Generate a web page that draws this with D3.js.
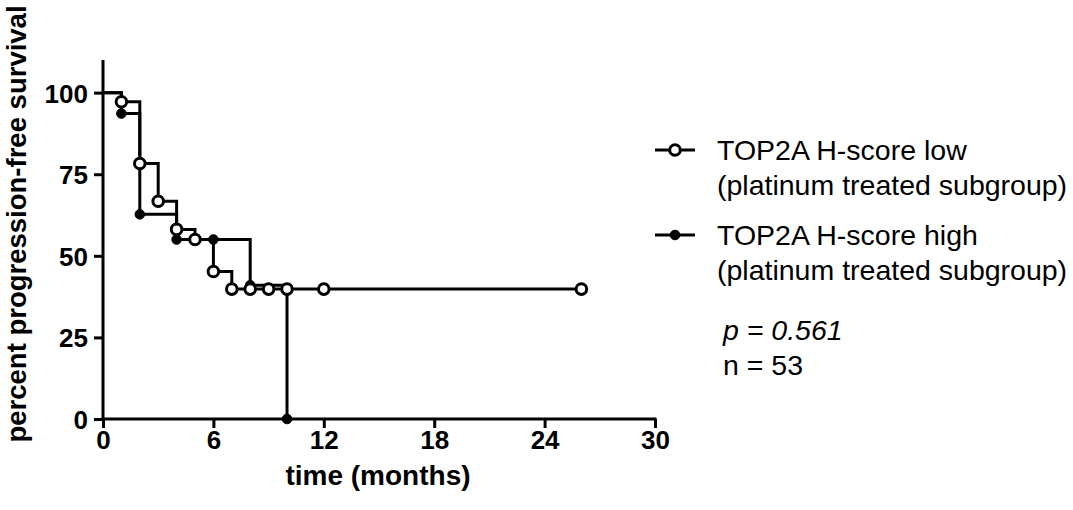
<!DOCTYPE html>
<html>
<head>
<meta charset="utf-8">
<script src="https://cdn.jsdelivr.net/npm/d3@7"></script>
<style>
  html, body { margin: 0; padding: 0; background: #fff; }
  svg text { font-family: "Liberation Sans", Arial, sans-serif; }
</style>
</head>
<body>
<svg id="chart" width="1073" height="510"></svg>
<script>
// ---- data ----
// Kaplan-Meier step points: [time in months, percent surviving]
const lowTimes   = [0, 1, 2, 3, 4, 5, 6, 7, 8, 9, 10, 12, 26];
const lowValues  = [100, 97.2, 78.3, 66.7, 58.1, 55.0, 45.2, 39.8, 39.8, 39.8, 39.8, 39.8, 39.8];
const highTimes  = [0, 1, 2, 4, 6, 8, 10];
const highValues = [100, 93.6, 62.7, 55.0, 55.0, 41.0, 0];
const xTicks = [0, 6, 12, 18, 24, 30];
const yTicks = [0, 25, 50, 75, 100];
const legendLabels = [
  ["TOP2A H-score low", "(platinum treated subgroup)"],
  ["TOP2A H-score high", "(platinum treated subgroup)"]
];
const pText = "p = 0.561";
const nText = "n = 53";
const xTitle = "time (months)";
const yTitle = "percent progression-free survival";

// ---- drawing ----
const svg = d3.select("#chart");
const x = d3.scaleLinear().domain([0, 30]).range([103, 655]);
const y = d3.scaleLinear().domain([0, 110]).range([419, 60]);
const SW = 3;

// axes
const xAxis = d3.axisBottom(x).tickValues(xTicks).tickSize(9).tickSizeOuter(0);
const yAxis = d3.axisLeft(y).tickValues(yTicks).tickSize(9).tickSizeOuter(0);

const gx = svg.append("g").attr("transform", `translate(0,${y(0)})`).call(xAxis);
const gy = svg.append("g").attr("transform", `translate(${x(0)},0)`).call(yAxis);
[gx, gy].forEach(g => {
  g.select(".domain").attr("stroke", "#000").attr("stroke-width", SW);
  g.selectAll(".tick line").attr("stroke", "#000").attr("stroke-width", SW);
  g.selectAll(".tick text").attr("fill", "#000")
    .style("font-size", "26px").style("font-weight", "bold")
    .style("font-family", "'Liberation Sans', Arial, sans-serif");
});
gx.selectAll(".tick text").attr("dy", "0.36em").attr("y", 21);
gy.selectAll(".tick text").attr("x", -15).attr("dy", "0.36em");
// domains: y extends above to 110
gy.select(".domain").attr("d", `M0,${y(110)}V${y(0) + SW/2}`);
gx.select(".domain").attr("d", `M${x(0) - SW/2},0H${x(30) + SW/2}`);

// step line generator
const step = d3.line().x(d => x(d[0])).y(d => y(d[1])).curve(d3.curveStepAfter);

function drawSeries(times, values, open) {
  const pts = times.map((t, i) => [t, values[i]]);
  svg.append("path").datum(pts).attr("d", step)
    .attr("fill", "none").attr("stroke", "#000").attr("stroke-width", SW);
  svg.append("g").selectAll("circle").data(pts.slice(1)).join("circle")
    .attr("cx", d => x(d[0])).attr("cy", d => y(d[1]))
    .attr("r", open ? 5.3 : 4.8)
    .attr("fill", open ? "#fff" : "#000")
    .attr("stroke", "#000").attr("stroke-width", open ? 3 : 1);
}
drawSeries(highTimes, highValues, false);
drawSeries(lowTimes, lowValues, true);

// axis titles
svg.append("text").attr("x", 378).attr("y", 485).attr("text-anchor", "middle")
  .style("font-size", "28px").style("font-weight", "bold").text(xTitle);
svg.append("text").attr("transform", `translate(26,224) rotate(-90)`).attr("text-anchor", "middle")
  .style("font-size", "27.5px").style("font-weight", "bold").text(yTitle);

// legend
const legY = [150, 235];
legendLabels.forEach((lines, i) => {
  const g = svg.append("g");
  g.append("line").attr("x1", 655).attr("x2", 695).attr("y1", legY[i]).attr("y2", legY[i])
    .attr("stroke", "#000").attr("stroke-width", SW);
  g.append("circle").attr("cx", 675).attr("cy", legY[i]).attr("r", i === 0 ? 5.3 : 4.8)
    .attr("fill", i === 0 ? "#fff" : "#000").attr("stroke", "#000").attr("stroke-width", i === 0 ? 3 : 1);
  lines.forEach((s, j) => {
    g.append("text").attr("x", 717).attr("y", legY[i] + j * 35).attr("dy", "0.36em")
      .style("font-size", "28.5px").text(s);
  });
});
svg.append("text").attr("x", 723).attr("y", 330).attr("dy", "0.36em")
  .style("font-size", "28.5px").style("font-style", "italic").text(pText);
svg.append("text").attr("x", 723).attr("y", 365).attr("dy", "0.36em")
  .style("font-size", "28.5px").text(nText);
</script>
</body>
</html>
